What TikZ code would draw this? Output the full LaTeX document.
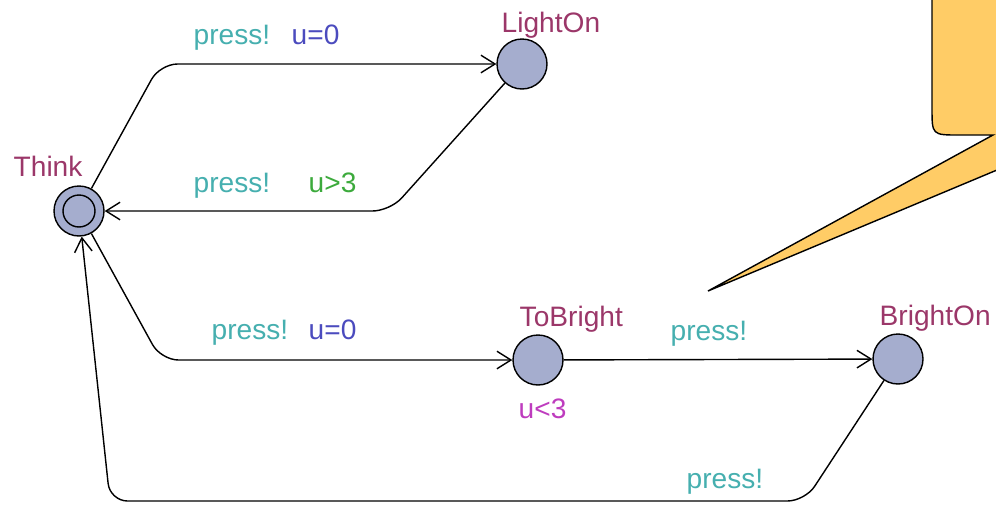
\documentclass[tikz,border=0pt]{standalone}
\usepackage{fontspec}
\setmainfont{Liberation Sans}
\usepackage{xcolor}
\usepackage{tikz}
\usetikzlibrary{arrows.meta}

\definecolor{locfill}{RGB}{165,173,206}
\definecolor{namecol}{RGB}{155,55,105}
\definecolor{synccol}{RGB}{70,175,175}
\definecolor{updcol}{RGB}{75,75,190}
\definecolor{guardcol}{RGB}{60,170,60}
\definecolor{invcol}{RGB}{190,60,190}
\definecolor{notecol}{RGB}{255,204,102}

\begin{document}
\begin{tikzpicture}[x=0.02cm, y=-0.02cm, line width=0.8pt,
    loc/.style={circle, draw, fill=locfill, minimum size=1cm, inner sep=0pt},
    lbl/.style={anchor=base west, inner sep=0pt, font=\fontsize{16}{18}\selectfont},
    trans/.style={-{Straight Barb[length=8pt,width=10pt]}, rounded corners=0.35cm}]
    \clip (0, 0) rectangle (996, 504);
    % callout
    \filldraw[fill = notecol] (1040, -40) -- (932, -40) -- (932, 108) .. controls (932, 135) .. (959, 135) -- (993, 135) -- (708, 291) -- (1040, 152) -- cycle;
    % locations
    \node[loc] (Think) at (79, 211) {};
    \draw (Think.center) circle (0.32cm);
    \node[loc] (LightOn) at (522, 64) {};
    \node[loc] (ToBright) at (538, 360) {};
    \node[loc] (BrightOn) at (898, 359) {};
    \node[lbl, text = namecol] (nThink) at (13, 176) {Think};
    \node[lbl, text = namecol] (nLightOn) at (501, 32) {LightOn};
    \node[lbl, text = namecol] (nToBright) at (519, 326) {ToBright};
    \node[lbl, text = namecol] (nBrightOn) at (879, 325) {BrightOn};
    \node[lbl, text = invcol] (iToBright) at (518, 418) {u<3};
    % bends
    \coordinate (c1) at (160, 64);
    \coordinate (c2) at (390, 211);
    \coordinate (c3) at (161, 360);
    \coordinate (c4) at (805, 501);
    \coordinate (c5) at (110, 501);
    % transitions
    \draw[trans] (Think) -- (c1) -- (LightOn);
    \draw[trans] (LightOn) -- (c2) -- (Think);
    \draw[trans] (Think) -- (c3) -- (ToBright);
    \draw[trans] (ToBright) -- (BrightOn);
    \draw[trans] (BrightOn) -- (c4) -- (c5) -- (Think);
    \node[lbl, text = synccol] (s1) at (193, 44) {press!};
    \node[lbl, text = updcol] (u1) at (291, 44) {u=0};
    \node[lbl, text = synccol] (s2) at (193, 192) {press!};
    \node[lbl, text = guardcol] (g2) at (308, 192) {u>3};
    \node[lbl, text = synccol] (s3) at (211, 339) {press!};
    \node[lbl, text = updcol] (u3) at (308, 339) {u=0};
    \node[lbl, text = synccol] (s4) at (670, 340) {press!};
    \node[lbl, text = synccol] (s5) at (686, 488) {press!};
\end{tikzpicture}
\end{document}
